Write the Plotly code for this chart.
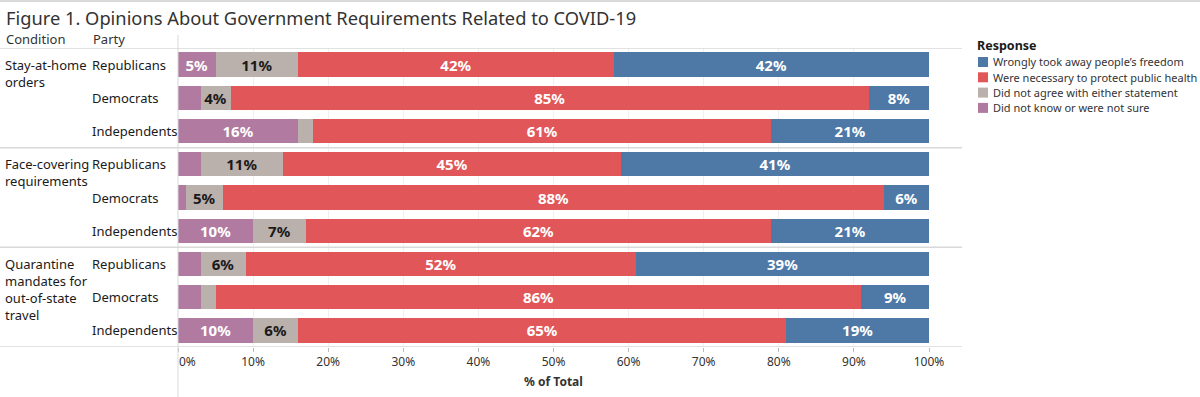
import plotly.graph_objects as go

title = "Figure 1. Opinions About Government Requirements Related to COVID-19"
conditions = ["Stay-at-home<br>orders", "Face-covering<br>requirements",
              "Quarantine<br>mandates for<br>out-of-state<br>travel"]
parties = ["Republicans", "Democrats", "Independents"]

# rows: condition x party (Rep, Dem, Ind for each condition)
not_sure = [5, 3, 16, 3, 1, 10, 3, 3, 10]
neither = [11, 4, 2, 11, 5, 7, 6, 2, 6]
necessary = [42, 85, 61, 45, 88, 62, 52, 86, 65]
freedom = [42, 8, 21, 41, 6, 21, 39, 9, 19]

series = [
    ("Did not know or were not sure", not_sure, "#b07aa1", "white"),
    ("Did not agree with either statement", neither, "#bab0ac", "#1a1a1a"),
    ("Were necessary to protect public health", necessary, "#e15759", "white"),
    ("Wrongly took away people\u2019s freedom", freedom, "#4e79a7", "white"),
]

x_ticks = [0, 10, 20, 30, 40, 50, 60, 70, 80, 90, 100]

W, H = 1200, 397
L, R, T, B = 178, 271, 48, 50
pw = W - L - R
ph = H - T - B

def px_x(p):
    return (p - L) / pw

def px_y(p):
    return 1 + (T - p) / ph

rows = list(range(len(freedom)))
font_fam = "Noto Sans, Open Sans, sans-serif"

fig = go.Figure()
for name, vals, color, tcol in series:
    fig.add_trace(go.Bar(
        y=rows, x=vals, orientation="h", name=name,
        marker=dict(color=color, line=dict(width=0)),
        text=[f"{v}%" if v >= 4 else "" for v in vals],
        textposition="inside", insidetextanchor="middle", constraintext="none",
        textfont=dict(color=tcol, size=15, family=font_fam, weight="bold"),
        hoverinfo="skip", showlegend=False,
    ))

annotations = [
    dict(text=title, xref="paper", yref="paper", x=px_x(4), y=px_y(17),
         xanchor="left", yanchor="middle", showarrow=False,
         font=dict(size=18.3, color="#333333", family=font_fam)),
    dict(text="Condition", xref="paper", yref="paper", x=px_x(4), y=px_y(39),
         xanchor="left", yanchor="middle", showarrow=False,
         font=dict(size=13, color="#333333", family=font_fam)),
    dict(text="Party", xref="paper", yref="paper", x=px_x(91), y=px_y(39),
         xanchor="left", yanchor="middle", showarrow=False,
         font=dict(size=13, color="#333333", family=font_fam)),
]
for i in rows:
    annotations.append(dict(
        text=parties[i % 3], xref="paper", yref="y", x=px_x(90), y=i,
        xanchor="left", yanchor="middle", showarrow=False,
        font=dict(size=13, color="#1a1a1a", family=font_fam)))
for g, c in enumerate(conditions):
    annotations.append(dict(
        text=c, xref="paper", yref="y", x=px_x(3), y=g * 3 - 0.33,
        xanchor="left", yanchor="top", showarrow=False, align="left",
        font=dict(size=13, color="#1a1a1a", family=font_fam)))

shapes = []
line_col = "#d9d9d9"
for yv in [-0.5, 2.5, 5.5, 8.5]:
    shapes.append(dict(type="line", xref="paper", yref="y",
                       x0=px_x(0), x1=px_x(962), y0=yv, y1=yv,
                       line=dict(color=line_col, width=1.5)))
shapes.append(dict(type="line", xref="paper", yref="paper",
                   x0=0, x1=0, y0=px_y(397), y1=px_y(35),
                   line=dict(color=line_col, width=1)))
shapes.append(dict(type="line", xref="paper", yref="paper",
                   x0=px_x(0), x1=px_x(1200), y0=px_y(1), y1=px_y(1),
                   line=dict(color=line_col, width=2)))

# custom legend (reversed stacking order)
annotations.append(dict(
    text="<b>Response</b>", xref="paper", yref="paper", x=px_x(975), y=px_y(45),
    xanchor="left", yanchor="middle", showarrow=False,
    font=dict(size=12.5, color="#1a1a1a", family=font_fam)))
for k, (name, vals, color, tcol) in enumerate(reversed(series)):
    yc = 62 + k * 15.3
    shapes.append(dict(type="rect", xref="paper", yref="paper",
                       x0=px_x(978), x1=px_x(988), y0=px_y(yc - 5), y1=px_y(yc + 5),
                       fillcolor=color, line=dict(width=0)))
    annotations.append(dict(
        text=name, xref="paper", yref="paper", x=px_x(991), y=px_y(yc),
        xanchor="left", yanchor="middle", showarrow=False,
        font=dict(size=11, color="#333333", family=font_fam)))

tick_text = [f"{v}%" for v in x_ticks]
tick_text[0] = "&nbsp;" * 6 + tick_text[0]

fig.update_layout(
    width=W, height=H, barmode="stack", bargap=0.27,
    margin=dict(l=L, r=R, t=T, b=B, autoexpand=False),
    plot_bgcolor="white", paper_bgcolor="white",
    font=dict(family=font_fam, color="#333333"),
    annotations=annotations, shapes=shapes,
    showlegend=False,
    xaxis=dict(range=[0, 100], tickmode="array", tickvals=x_ticks,
               ticktext=tick_text,
               showgrid=True, gridcolor="#f0f0f0", zeroline=False,
               ticks="outside", ticklen=4, tickcolor="#bbbbbb",
               tickfont=dict(size=12, color="#333333", family=font_fam),
               title=dict(text="<b>% of Total</b>",
                          font=dict(size=12, color="#333333", family=font_fam),
                          standoff=8),
               fixedrange=True),
    yaxis=dict(range=[8.5, -0.5], showticklabels=False, showgrid=False,
               zeroline=False, fixedrange=True),
)

fig.write_html("out.html", config={"displayModeBar": False},
               post_script="document.body.style.margin='0';document.body.style.padding='0';")
